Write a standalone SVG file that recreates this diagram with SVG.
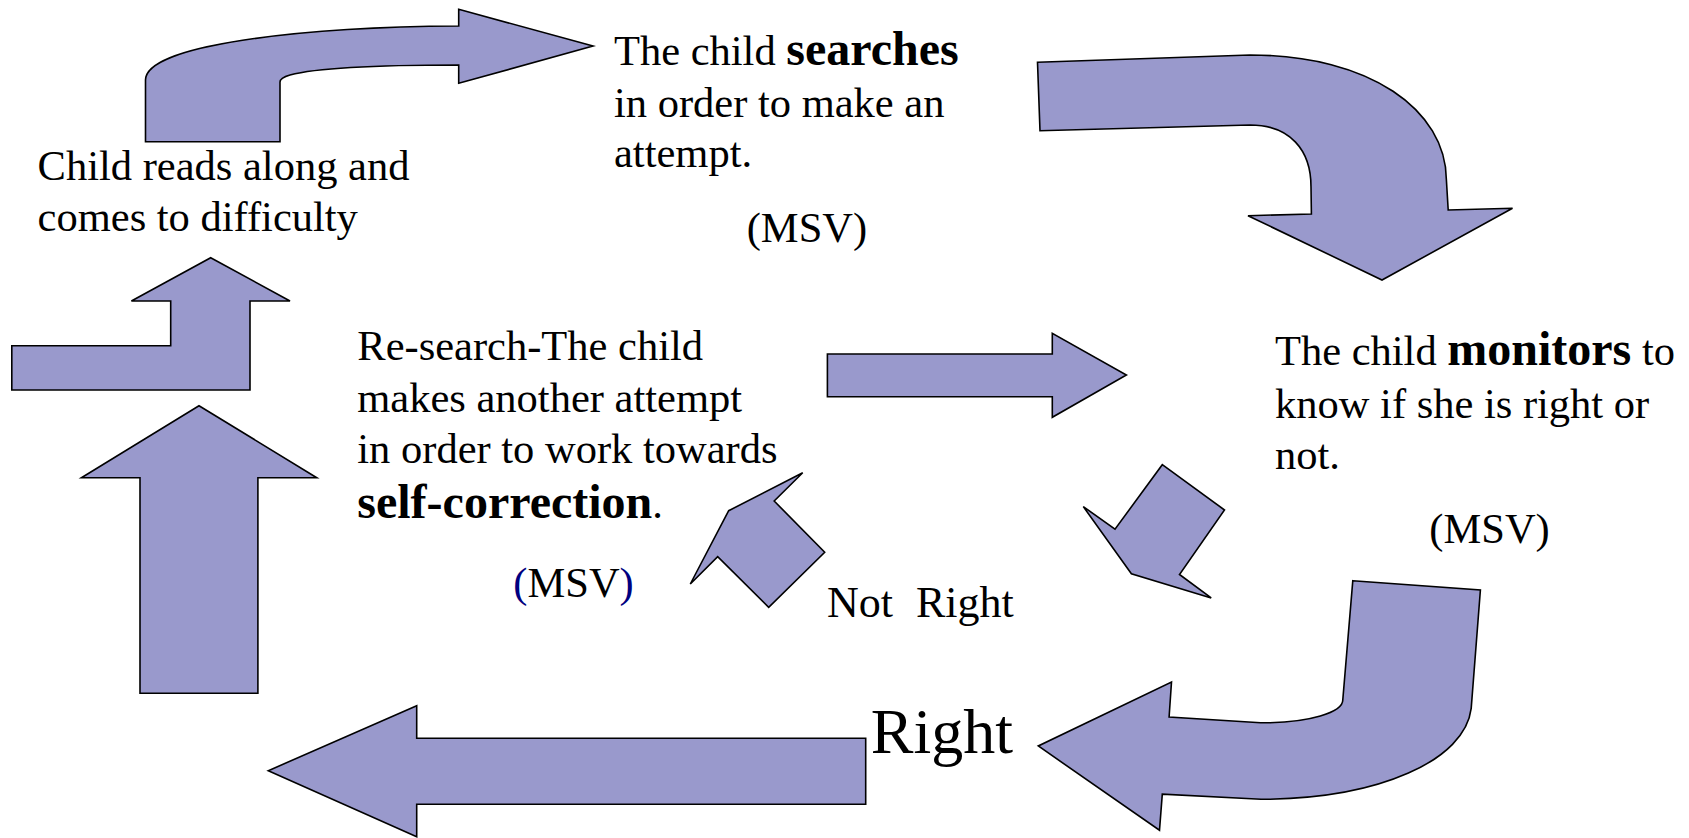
<svg xmlns="http://www.w3.org/2000/svg" width="1689" height="838" viewBox="0 0 1689 838">
<style>
.arrow{fill:#9999CC;stroke:#000;stroke-width:1.6;stroke-linejoin:miter}
text{font-family:"Liberation Serif","Times New Roman",serif;font-size:42.5px;fill:#000}
.b{font-weight:bold;font-size:48px}
.blue{fill:#000080}
.big{font-size:64px}
.mid{font-size:44px}
</style>
<rect width="1689" height="838" fill="#fff"/>
<g id="connectors">
<path class="arrow" d="M145.5,141.7 L145.5,80 C145.5,45 300,27 458.7,26 L458.7,9.3 L593,46 L458.7,83.3 L458.7,65 C380,65 316,68 290,75 C283,77 280,79 280,82 L280,141.7 Z"/>
<path class="arrow" d="M1037.5,62.3 L1250,55 C1370,55 1446,110 1446.4,180 L1448.2,210 L1512.5,208.3 L1382,280 L1248,215.7 L1311.4,214 L1311,186.7 C1311,150 1290,125 1250,125 L1040,130.7 Z"/>
<path class="arrow" d="M1352.8,580.7 L1480.4,590 L1471.2,708.4 C1465,760 1380,799 1261,799.3 L1162.3,794.2 L1159.5,830.2 L1038.3,746 L1171.5,682 L1169.1,717 L1260.6,722.8 C1310,723 1343,712 1342.8,699.8 Z"/>
<polygon class="arrow" points="865.7,738.3 416.7,738.3 416.7,705.7 268.3,770.7 416.7,836.7 416.7,804.3 865.7,804.3"/>
<polygon class="arrow" points="199,405.7 316.8,477.7 257.9,477.7 257.9,693.3 140,693.3 140,477.7 81.4,477.7"/>
<polygon class="arrow" points="210.7,257.7 290,301 250,301 250,390 11.8,390 11.8,345.7 170.7,345.7 170.7,301 131.4,301"/>
<polygon class="arrow" points="827.4,354 1052.3,354 1052.3,333.3 1126.4,375 1052.3,417.3 1052.3,396.7 827.4,396.7"/>
<polygon class="arrow" points="1162.3,464.7 1224.5,510 1179.5,574.5 1211.2,597.9 1131.4,573.8 1083.3,506.6 1115,529.2"/>
<polygon class="arrow" points="802.7,472.7 774.2,501 824.7,552.3 768.7,607.3 717.7,556.7 690.3,584 728.7,510.7"/>
</g>
<g id="node-difficulty">
<text x="37.6" y="180">Child reads along and</text>
<text x="37.6" y="231">comes to difficulty</text>
</g>
<g id="node-searches">
<text x="614" y="65">The child <tspan class="b">searches</tspan></text>
<text x="614" y="116.7">in order to make an</text>
<text x="614" y="166.7">attempt.</text>
<text x="746.7" y="241.7">(MSV)</text>
</g>
<g id="node-monitors">
<text x="1275" y="365">The child <tspan class="b">monitors</tspan> to</text>
<text x="1275" y="418.3">know if she is right or</text>
<text x="1275" y="469.3">not.</text>
<text x="1429.3" y="543.3">(MSV)</text>
</g>
<g id="node-research">
<text x="357.3" y="360">Re-search-The child</text>
<text x="357.3" y="411.7">makes another attempt</text>
<text x="357.3" y="462.7">in order to work towards</text>
<text x="357.3" y="518.3"><tspan class="b">self-correction</tspan>.</text>
<text x="513.3" y="596.7"><tspan class="blue">(</tspan>MSV<tspan class="blue">)</tspan></text>
</g>
<g id="label-not-right">
<text class="mid" x="827" y="616.7">Not <tspan dx="12">Right</tspan></text>
</g>
<g id="label-right">
<text class="big" x="870.7" y="753.3">Right</text>
</g>
</svg>
